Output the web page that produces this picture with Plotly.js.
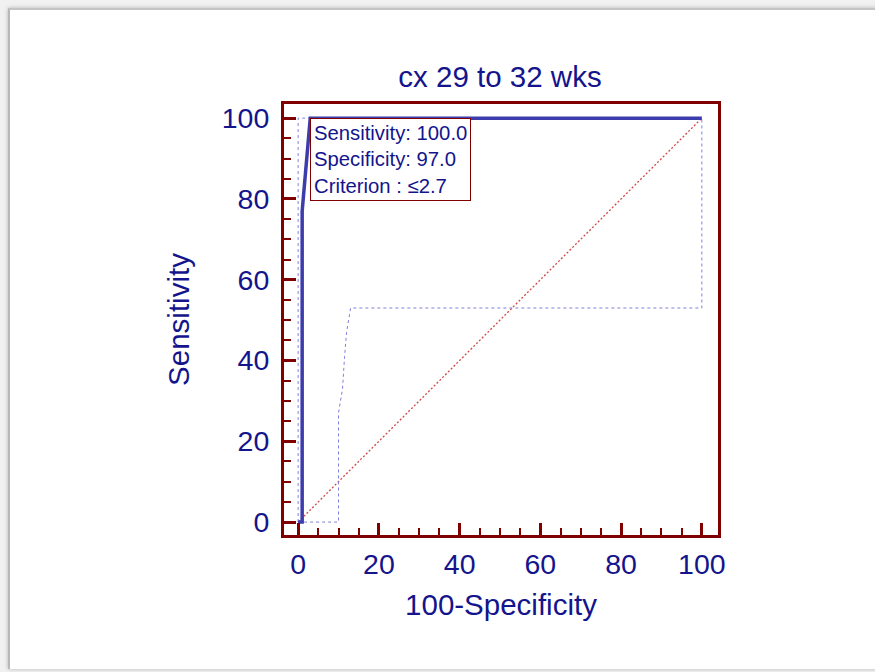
<!DOCTYPE html>
<html>
<head>
<meta charset="utf-8">
<script src="https://cdn.plot.ly/plotly-3.0.1.min.js"></script>
<style>
  html, body { margin:0; padding:0; width:875px; height:672px; overflow:hidden; background:#f1f1f1; }
  #panel { position:absolute; left:8px; top:8px; width:900px; height:659px; background:#ffffff;
           border-left:2px solid #b8b8b8; border-top:2px solid #c4c4c4; box-shadow:0 0 4px rgba(0,0,0,0.25); }
  #chart { position:absolute; left:0; top:0; width:875px; height:672px; }
</style>
</head>
<body>
<div id="panel"></div>
<div id="chart"></div>
<script>
// ROC curve (100-Specificity vs Sensitivity)
const rocX = [0, 1, 1, 3, 100];
const rocY = [0, 0, 77, 100, 100];
// Upper confidence bound
const upperX = [0, 0, 100];
const upperY = [0, 100, 100];
// Lower confidence bound
const lowerX = [0, 10, 10, 11, 11.5, 12, 12.5, 13, 100, 100];
const lowerY = [0, 0, 27, 33, 41, 47, 50, 53, 53, 100];
// Reference diagonal
const diagX = [0, 100];
const diagY = [0, 100];
// Optimal criterion labels
const infoLines = ["Sensitivity: 100.0", "Specificity: 97.0", "Criterion : \u22642.7"];
const infoPoint = [3, 100];
const tickVals = [0, 20, 40, 60, 80, 100];

const navy = '#14148c';
const maroon = '#800000';
const fontFam = 'Arial, "Liberation Sans", sans-serif';

const traces = [
  {x: diagX, y: diagY, mode: 'lines', line: {color: '#d04848', width: 1.3, dash: '2px,2px'}, hoverinfo: 'skip'},
  {x: lowerX, y: lowerY, mode: 'lines', line: {color: '#8080dc', width: 1, dash: 'dot'}, hoverinfo: 'skip'},
  {x: upperX, y: upperY, mode: 'lines', line: {color: '#8080dc', width: 1, dash: 'dot'}, hoverinfo: 'skip'},
  {x: rocX, y: rocY, mode: 'lines', line: {color: '#3c3cac', width: 3.5}, hoverinfo: 'skip'}
];

const axisCommon = {
  showgrid: false, zeroline: false,
  showline: true, linecolor: maroon, linewidth: 3, mirror: true,
  ticks: 'inside', ticklen: 12, tickwidth: 3, tickcolor: maroon,
  tickvals: tickVals,
  minor: {ticks: 'inside', dtick: 5, ticklen: 7, tickwidth: 2, tickcolor: maroon, showgrid: false},
  tickfont: {family: fontFam, size: 28.5, color: navy},
  fixedrange: true
};

const layout = {
  width: 875, height: 672,
  margin: {l: 284, r: 157, t: 104, b: 137, pad: 0},
  paper_bgcolor: 'rgba(0,0,0,0)',
  plot_bgcolor: '#ffffff',
  showlegend: false,
  title: {text: 'cx 29 to 32 wks', font: {family: fontFam, size: 29.5, color: navy},
          x: 500/875, xanchor: 'center', y: 1 - 77/672, yanchor: 'middle', yref: 'container', xref: 'container'},
  xaxis: Object.assign({}, axisCommon, {
    range: [-3.5, 104],
    ticklabelstandoff: 2,
    title: {text: '100-Specificity', font: {family: fontFam, size: 29.5, color: navy}, standoff: 16}
  }),
  yaxis: Object.assign({}, axisCommon, {
    range: [-3.2, 103.5],
    ticklabelstandoff: 6,
    title: {text: 'Sensitivity', font: {family: fontFam, size: 29.5, color: navy}, standoff: 24}
  }),
  annotations: [{
    x: infoPoint[0], y: infoPoint[1], xref: 'x', yref: 'y',
    xanchor: 'left', yanchor: 'top', showarrow: false, align: 'left',
    text: infoLines.join('<br>'),
    font: {family: fontFam, size: 20.3, color: navy},
    bgcolor: '#ffffff', bordercolor: maroon, borderwidth: 1, borderpad: 3
  }]
};

Plotly.newPlot('chart', traces, layout, {staticPlot: true, displayModeBar: false});
</script>
</body>
</html>
